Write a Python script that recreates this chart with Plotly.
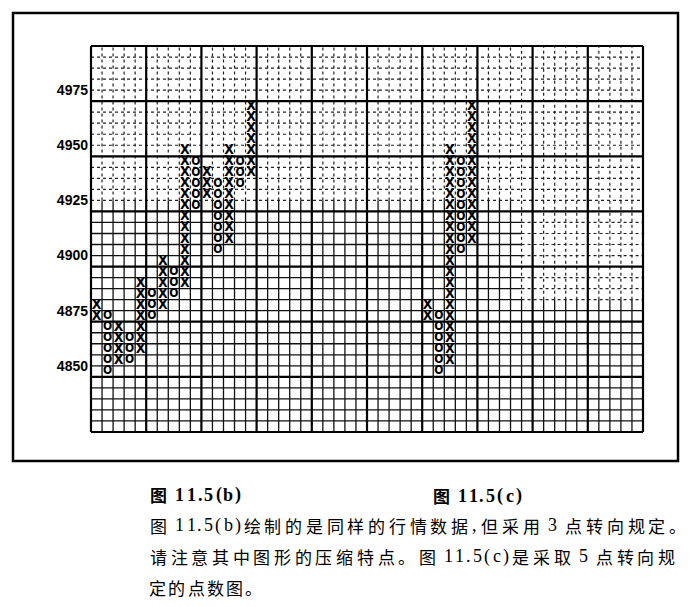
import plotly.graph_objects as go

# ---------------- data ----------------
BOX = 5  # box size (points)

# Figure 11.5(b): 3-box reversal
b_kinds = ['X', 'O', 'X', 'O', 'X', 'O', 'X', 'O', 'X', 'O', 'X', 'O', 'X', 'O', 'X']
b_low = [4870, 4845, 4850, 4850, 4855, 4870, 4875, 4880, 4885, 4920, 4925, 4900, 4905, 4930, 4935]
b_high = [4875, 4870, 4865, 4860, 4885, 4880, 4895, 4890, 4945, 4940, 4935, 4930, 4945, 4940, 4965]

# Figure 11.5(c): 5-box reversal
c_kinds = ['X', 'O', 'X', 'O', 'X']
c_low = [4870, 4845, 4850, 4900, 4905]
c_high = [4875, 4870, 4945, 4940, 4965]

tick_vals = [4850, 4875, 4900, 4925, 4950, 4975]
tick_text = ['4850', '4875', '4900', '4925', '4950', '4975']

heading_b = "图 11.5(b)"
heading_c = "图 11.5(c)"
body_lines = [
    "图 11.5(b)绘制的是同样的行情数据,但采用 3 点转向规定。",
    "请注意其中图形的压缩特点。图 11.5(c)是采取 5 点转向规",
    "定的点数图。",
]

# ---------------- layout constants ----------------
OFF = 8                      # default page body margin of the html page
W, H = 696 - 2 * OFF, 607 - 2 * OFF
N_COLS = 50
Y_MIN, Y_MAX = 4820, 4995
B_START, C_START = 0, 30
PX_L, PX_R, PX_T, PX_B = 89, 645, 44, 434          # plot area (page px)
X_RANGE = [-2 / 11.04, N_COLS + 2 / 11.04]
PPT = (432 - 46) / (Y_MAX - Y_MIN)
Y_RANGE = [Y_MIN - 2 / PPT, Y_MAX + 2 / PPT]


def xp(px):
    return (px - PX_L) / (PX_R - PX_L)


def yp(py):
    return (PX_B - py) / (PX_B - PX_T)


fig = go.Figure()

# ---------------- grid ----------------
thin_s_x, thin_s_y = [], []
thin_d_x, thin_d_y = [], []
major_x, major_y = [], []


def seg(xs, ys, x0, y0, x1, y1):
    xs.extend([x0, x1, None])
    ys.extend([y0, y1, None])


RIGHT_ZONE = 39
for v in range(Y_MIN, Y_MAX + 1, BOX):
    if (v - Y_MIN) % 25 == 0:
        seg(major_x, major_y, 0, v, N_COLS, v)
    elif v >= 4925:
        seg(thin_d_x, thin_d_y, 0, v, N_COLS, v)
    elif v >= 4880:
        seg(thin_s_x, thin_s_y, 0, v, RIGHT_ZONE, v)
        seg(thin_d_x, thin_d_y, RIGHT_ZONE, v, N_COLS, v)
    else:
        seg(thin_s_x, thin_s_y, 0, v, N_COLS, v)

for c in range(0, N_COLS + 1):
    if c % 5 == 0:
        seg(major_x, major_y, c, Y_MIN, c, Y_MAX)
    else:
        bnd = 4925 if c < RIGHT_ZONE else 4880
        seg(thin_s_x, thin_s_y, c, Y_MIN, c, bnd)
        seg(thin_d_x, thin_d_y, c, bnd, c, Y_MAX)

fig.add_trace(go.Scatter(x=thin_s_x, y=thin_s_y, mode='lines',
                         line=dict(color='#111', width=1.3), hoverinfo='skip'))
fig.add_trace(go.Scatter(x=thin_d_x, y=thin_d_y, mode='lines',
                         line=dict(color='#222', width=1.2, dash='3px,3px'), hoverinfo='skip'))
fig.add_trace(go.Scatter(x=major_x, y=major_y, mode='lines',
                         line=dict(color='#000', width=2.2), hoverinfo='skip'))

# ---------------- marks (X / O as text) ----------------
xs_x, ys_x, xs_o, ys_o = [], [], [], []


def add_columns(start, kinds, lows, highs):
    for i, (k, lo, hi) in enumerate(zip(kinds, lows, highs)):
        for v in range(lo, hi + 1, BOX):
            if k == 'X':
                xs_x.append(start + i + 0.5)
                ys_x.append(v + BOX / 2)
            else:
                xs_o.append(start + i + 0.5)
                ys_o.append(v + BOX / 2)


add_columns(B_START, b_kinds, b_low, b_high)
add_columns(C_START, c_kinds, c_low, c_high)

mark_font = "Liberation Sans Narrow, DejaVu Sans Condensed, Liberation Sans"
fig.add_trace(go.Scatter(x=xs_x, y=ys_x, mode='text', text=['X'] * len(xs_x),
                         textposition='middle center',
                         textfont=dict(family=mark_font, size=14, color='#000',
                                       weight='bold'),
                         hoverinfo='skip'))
fig.add_trace(go.Scatter(x=xs_o, y=ys_o, mode='text', text=['O'] * len(xs_o),
                         textposition='middle center',
                         textfont=dict(family=mark_font, size=12, color='#000',
                                       weight='bold'),
                         hoverinfo='skip'))

# ---------------- captions (laid out per character) ----------------
annotations = []


def char_w(ch):
    if ord(ch) > 0x2E7F:
        return 1.0
    if ch == ' ':
        return 0.25
    if ch == '.':
        return 0.3
    if ch == ',':
        return 0.45
    if ch in '()':
        return 0.38
    return 0.55


def layout_text(s, x0, x1, y, bold=False, unit=None):
    total = sum(char_w(ch) for ch in s)
    if unit is None:
        unit = (x1 - x0) / total
    cum = 0.0
    for ch in s:
        w = char_w(ch)
        if ch != ' ':
            cx = x0 + unit * (cum + w / 2)
            cjk = ord(ch) > 0x2E7F
            annotations.append(dict(
                x=xp(cx), y=yp(y), xref='paper', yref='paper', text=ch,
                showarrow=False, xanchor='center', yanchor='middle',
                font=dict(family="Noto Sans CJK SC" if cjk else "Liberation Serif",
                          size=17 if cjk else 18, color='#000',
                          weight='bold' if bold else 'normal')))
        cum += w


layout_text(heading_b, 148, 242, 495, bold=True)
layout_text(heading_c, 431, 523, 496, bold=True)
layout_text(body_lines[0], 148, 688, 525)
layout_text(body_lines[1], 148, 677, 556)
layout_text(body_lines[2], 148, None, 587, unit=19.2)

# ---------------- frame ----------------
shapes = [dict(type='rect', xref='paper', yref='paper',
               x0=xp(13), x1=xp(678), y0=yp(461), y1=yp(13),
               line=dict(color='#000', width=2.5))]

fig.update_layout(
    width=W, height=H, autosize=False,
    margin=dict(l=PX_L - OFF, r=W - (PX_R - OFF), t=PX_T - OFF, b=H - (PX_B - OFF), pad=0),
    paper_bgcolor='white', plot_bgcolor='white',
    showlegend=False,
    xaxis=dict(range=X_RANGE, showgrid=False, zeroline=False, showticklabels=False,
               ticks='', showline=False, fixedrange=True, automargin=False),
    yaxis=dict(range=Y_RANGE, showgrid=False, zeroline=False, tickvals=tick_vals,
               ticktext=tick_text, ticks='', showline=False, automargin=False,
               tickfont=dict(family='Liberation Sans, Arial', size=14, color='#000',
                             weight='bold'),
               fixedrange=True),
    annotations=annotations,
    shapes=shapes,
)

fig.write_html("out.html")
